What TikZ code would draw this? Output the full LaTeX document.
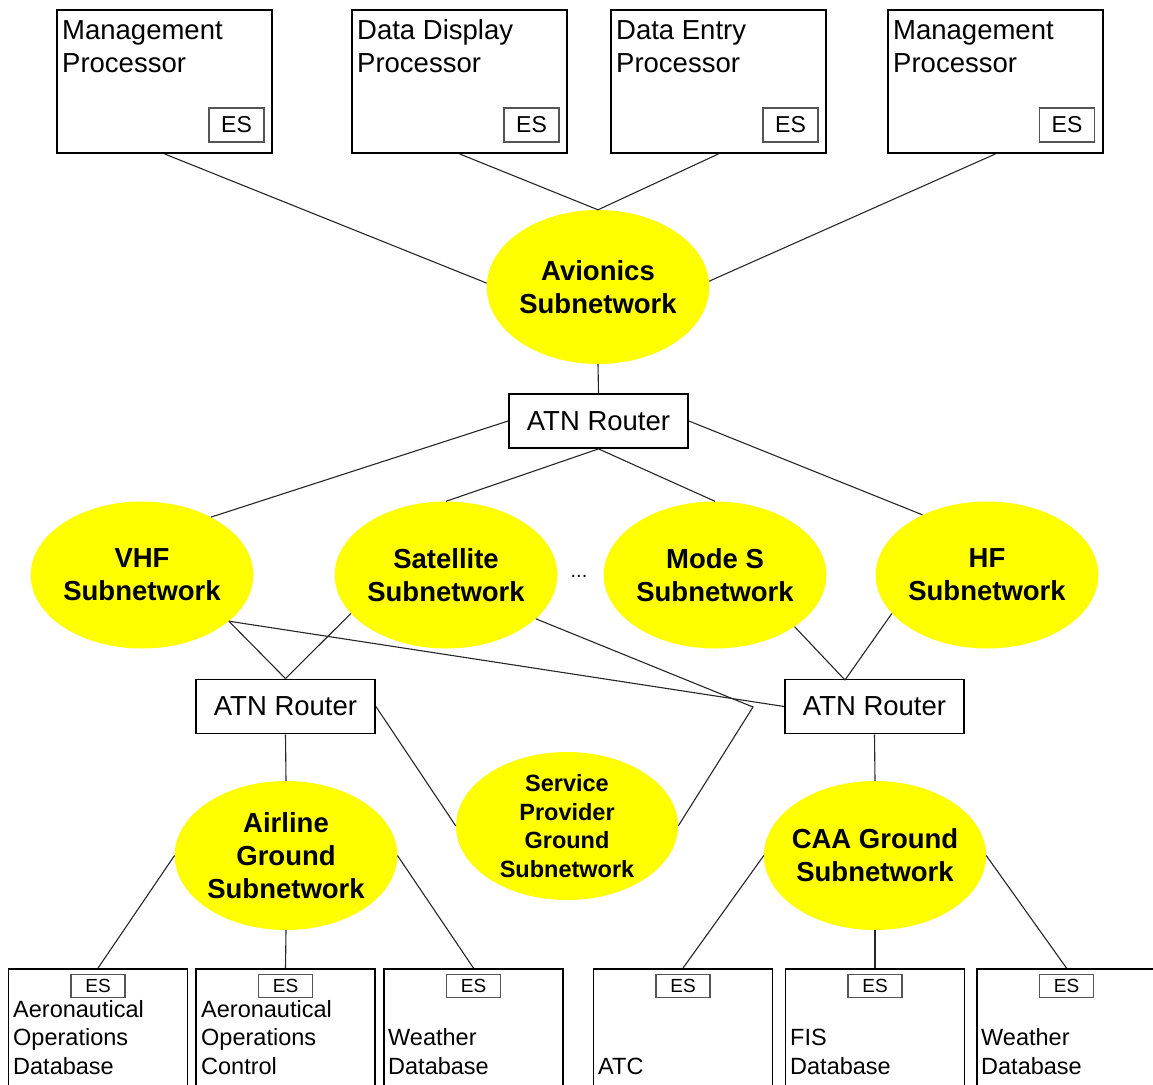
\documentclass[tikz,border=0pt]{standalone}
\usepackage{fontspec}
\setmainfont{Liberation Sans}
\usetikzlibrary{shapes.geometric}
\definecolor{subyellow}{RGB}{255,255,0}
\definecolor{esgray}{RGB}{85,85,85}
\begin{document}
\begin{tikzpicture}[x=1pt,y=-1pt,
  box/.style={draw=black, line width=1.8pt, rectangle, inner sep=0pt},
  topbox/.style={box, minimum width=215pt, minimum height=143pt},
  botbox/.style={box, minimum width=179pt, minimum height=131pt},
  esbox/.style={draw=esgray, line width=1.4pt, rectangle, inner sep=0pt, minimum width=55pt, minimum height=34pt, font=\fontsize{23}{27}\selectfont},
  esbot/.style={draw=esgray, line width=1.3pt, rectangle, inner sep=0pt, minimum width=54pt, minimum height=23pt, font=\fontsize{19}{22}\selectfont},
  router/.style={box, minimum width=179pt, minimum height=54pt, font=\fontsize{27.5}{33}\selectfont},
  subnet/.style={ellipse, fill=subyellow, inner sep=0pt, minimum width=222pt, minimum height=147pt, align=center, font=\bfseries\fontsize{27.5}{33}\selectfont},
  spnet/.style={subnet, inner ysep=-5pt, font=\bfseries\fontsize{23.5}{28.5}\selectfont},
  link/.style={line width=1.1pt, draw=black!85},
  ttext/.style={anchor=base west, inner sep=0pt, font=\fontsize{27.5}{33}\selectfont},
  btext/.style={anchor=base west, inner sep=0pt, font=\fontsize{23.5}{28}\selectfont},
]
\useasboundingbox (0,0) rectangle (1153,1084);
\clip (0,0) rectangle (1153,1084);

% top processors
\node[topbox] (mp1) at (164.5,81.5) {};
\node[topbox] (ddp) at (459.5,81.5) {};
\node[topbox] (dep) at (718.5,81.5) {};
\node[topbox] (mp2) at (995.5,81.5) {};
\node[esbox] (es1) at (236.5,125) {ES};
\node[esbox] (es2) at (531.5,125) {ES};
\node[esbox] (es3) at (790.5,125) {ES};
\node[esbox] (es4) at (1067,125) {ES};
\node[ttext] (t1a) at (62,39) {Management};
\node[ttext] (t1b) at (62,72) {Processor};
\node[ttext] (t2a) at (357,39) {Data Display};
\node[ttext] (t2b) at (357,72) {Processor};
\node[ttext] (t3a) at (616,39) {Data Entry};
\node[ttext] (t3b) at (616,72) {Processor};
\node[ttext] (t4a) at (893,39) {Management};
\node[ttext] (t4b) at (893,72) {Processor};

% avionics
\node[subnet, minimum height=154pt] (avi) at (598,287) {Avionics\\Subnetwork};
\node[router] (r1) at (598.5,421) {ATN Router};

% air-ground subnetworks
\node[subnet] (vhf) at (142,575) {VHF\\Subnetwork};
\node[subnet] (sat) at (446,575) {Satellite\\Subnetwork};
\node[font=\fontsize{20}{24}\selectfont, inner sep=0pt] (dots) at (579,576) {...};
\node[subnet] (modes) at (715,575) {Mode S\\Subnetwork};
\node[subnet] (hf) at (987,575) {HF\\Subnetwork};

% ground routers
\node[router] (r2) at (285.5,706.5) {ATN Router};
\node[router] (r3) at (874.5,706.5) {ATN Router};
\coordinate (r3t) at (845,680);
\coordinate (spk) at (753,707);

% ground subnetworks
\node[subnet, minimum height=149pt] (air) at (286,855.5) {Airline\\Ground\\Subnetwork};
\node[spnet, minimum height=148pt] (sp) at (567,826) {Service\\Provider\\Ground\\Subnetwork};
\node[subnet, inner xsep=-12pt, minimum height=149pt] (caa) at (875,855.5) {CAA Ground\\Subnetwork};

% bottom end systems
\node[botbox] (b1) at (98,1034.5) {};
\node[botbox] (b2) at (285.5,1034.5) {};
\node[botbox] (b3) at (473.5,1034.5) {};
\node[botbox] (b4) at (683,1034.5) {};
\node[botbox] (b5) at (875,1034.5) {};
\node[botbox] (b6) at (1066.5,1034.5) {};
\node[esbot] (e1) at (98,986) {ES};
\node[esbot] (e2) at (285.5,986) {ES};
\node[esbot] (e3) at (473.5,986) {ES};
\node[esbot] (e4) at (683,986) {ES};
\node[esbot] (e5) at (875,986) {ES};
\node[esbot] (e6) at (1066.5,986) {ES};
\node[btext] (u1a) at (13,1017) {Aeronautical};
\node[btext] (u1b) at (13,1045.5) {Operations};
\node[btext] (u1c) at (13,1074) {Database};
\node[btext] (u2a) at (201,1017) {Aeronautical};
\node[btext] (u2b) at (201,1045.5) {Operations};
\node[btext] (u2c) at (201,1074) {Control};
\node[btext] (u3b) at (388,1045.5) {Weather};
\node[btext] (u3c) at (388,1074) {Database};
\node[btext] (u4c) at (598,1074) {ATC};
\node[btext] (u5b) at (790,1045.5) {FIS};
\node[btext] (u5c) at (790,1074) {Database};
\node[btext] (u6b) at (981,1045.5) {Weather};
\node[btext] (u6c) at (981,1074) {Database};

% connectors
\draw[link] (mp1.south) -- (avi.178);
\draw[link] (ddp.south) -- (avi.north);
\draw[link] (dep.south) -- (avi.north);
\draw[link] (mp2.south) -- (avi.3);
\draw[link] (avi.south) -- (r1.north);
\draw[link] (r1.west) -- (vhf.40);
\draw[link] (r1.south) -- (sat.north);
\draw[link] (r1.south) -- (modes.north);
\draw[link] (r1.east) -- (hf.137);
\draw[link] (vhf.-28) -- (r2.north);
\draw[link] (sat.202) -- (r2.north);
\draw[link] (vhf.-28) -- (r3.west);
\draw[link] (sat.-26) -- (spk) -- (sp.east);
\draw[link] (modes.-33) -- (r3t);
\draw[link] (hf.202) -- (r3t);
\draw[link] (r2.east) -- (sp.west);
\draw[link] (r2.south) -- (air.north);
\draw[link] (r3.south) -- (caa.north);
\draw[link] (air.west) -- (b1.north);
\draw[link] (air.south) -- (b2.north);
\draw[link] (air.east) -- (b3.north);
\draw[link] (caa.west) -- (b4.north);
\draw[link] (caa.south) -- (b5.north);
\draw[link] (caa.east) -- (b6.north);
\end{tikzpicture}
\end{document}
